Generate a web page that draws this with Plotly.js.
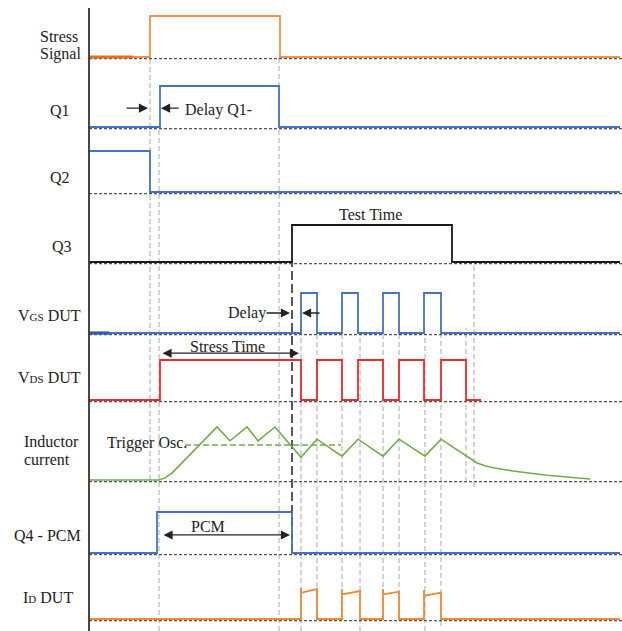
<!DOCTYPE html>
<html><head><meta charset="utf-8">
<script src="https://cdn.plot.ly/plotly-3.0.1.min.js"></script>
<style>html,body{margin:0;padding:0;background:#fff;}</style>
</head><body><div id="chart" style="width:622px;height:631px"></div>
<script>
// Time axis in arbitrary units, t = 0 at the left axis line
const stressT = [0, 61, 61, 191, 191, 531];
const stressV = [0, 0, 1, 1, 0, 0];
const stressStartT = [0, 44];
const stressStartV = [0, 0];
const q1T = [0, 71, 71, 190, 190, 531];
const q1V = [0, 0, 1, 1, 0, 0];
const q2T = [0, 61, 61, 531];
const q2V = [1, 1, 0, 0];
const q3T = [0, 203, 203, 363, 363, 531];
const q3V = [0, 0, 1, 1, 0, 0];
const vgsT = [0,212,212,228,228,253,253,269,269,294,294,310,310,335,335,352,352,531];
const vgsV = [0,0,1,1,0,0,1,1,0,0,1,1,0,0,1,1,0,0];
const vgsStartT = [0, 20];
const vgsStartV = [0, 0];
const vdsT = [0,71,71,212,212,228,228,253,253,269,269,294,294,310,310,335,335,352,352,377,377,392];
const vdsV = [0,0,1,1,0,0,1,1,0,0,1,1,0,0,1,1,0,0,1,1,0,0];
const indT = [0,70,76,83,128,141,158,169,186,212,228,253,269,294,310,336,352,376,382,388,396,404,424,458,501];
const indV = [0,0,0.04,0.13,1.0,0.74,1.0,0.74,1.0,0.43,0.77,0.45,0.77,0.45,0.77,0.45,0.77,0.47,0.39,0.32,0.27,0.23,0.17,0.09,0.02];
const triggerT = [96, 252];
const triggerV = [0.66, 0.66];
const q4T = [0, 68, 68, 203, 203, 531];
const q4V = [0, 0, 1, 1, 0, 0];
const idT = [0,212,212,212,228,228,253,253,253,271,271,294,294,294,310,310,335,335,335,352,352,531];
const idV = [0,0,1.03,0.87,1.0,0,0,1.0,0.82,0.93,0,0,1.0,0.82,0.91,0,0,0.97,0.77,0.88,0,0];

// Row layout (pixel rows: baseline / high level)
const W = 622, H = 631, L = 89;
const rows = [
  {base:57, top:16},   // stress
  {base:127, top:86},  // Q1
  {base:192, top:151}, // Q2
  {base:262, top:225}, // Q3
  {base:333, top:293}, // VGS
  {base:400, top:360}, // VDS
  {base:480, top:427}, // inductor
  {base:553, top:512}, // Q4
  {base:619, top:589}  // ID
];
const PAD = 0.25;
const px2x = px => (px - L) / (W - L);
const py2y = py => 1 - py / H;

const layout = {
  width: W, height: H,
  margin: {l: L, r: 0, t: 0, b: 0},
  paper_bgcolor: '#fff', plot_bgcolor: 'rgba(0,0,0,0)',
  showlegend: false,
  xaxis: {range: [0, W - L], visible: false, fixedrange: true},
  shapes: [], annotations: []
};
rows.forEach((r, i) => {
  const h = r.base - r.top;
  const name = 'yaxis' + (i === 0 ? '' : (i + 1));
  layout[name] = {
    domain: [py2y(r.base + PAD * h), py2y(r.top - PAD * h)],
    range: [-PAD, 1 + PAD], visible: false, anchor: 'x', fixedrange: true
  };
  const off = -1.6 / h; // dotted reference sits just below the low level
  layout.shapes.push({type:'line', layer:'below', xref:'x', yref: 'y' + (i === 0 ? '' : (i + 1)),
    x0: 0, x1: W - L, y0: off, y1: off, line: {color:'#555', width:1.2, dash:'3px,2px'}});
});

// vertical guide lines: [t, yTopPx, yBottomPx]
const guides = [[61,57,480],[70,127,631],[190,57,631],[212,333,631],[228,333,619],[253,333,619],
  [271,333,631],[294,333,619],[310,333,619],[336,333,631],[352,333,626],[377,328,482],[385,262,487]];
guides.forEach(g => layout.shapes.push({type:'line', layer:'below', xref:'x', yref:'paper',
  x0:g[0], x1:g[0], y0:py2y(g[2]), y1:py2y(g[1]), line:{color:'#aaa', width:1, dash:'5px,3px'}}));
layout.shapes.push({type:'line', layer:'below', xref:'x', yref:'paper', x0:203, x1:203,
  y0:py2y(553), y1:py2y(262), line:{color:'#222', width:1.5, dash:'9px,4px'}});
// left axis line
layout.shapes.push({type:'line', xref:'paper', yref:'paper', x0:0, x1:0, y0:0, y1:py2y(8),
  line:{color:'#333', width:1.8}});

const font = {family:'Liberation Serif, Times New Roman, serif', size:16, color:'#222'};
const lab = (text, leftPx, cyPx) => ({xref:'paper', yref:'paper', x:px2x(leftPx - 2), y:py2y(cyPx),
  xanchor:'left', yanchor:'middle', text, showarrow:false, font});
layout.annotations.push(
  lab('Stress', 40, 36), lab('Signal', 40, 54), lab('Q1', 50, 110), lab('Q2', 50, 177),
  lab('Q3', 52, 246), lab('V<span style="font-size:11px">GS</span> DUT', 18, 315),
  lab('V<span style="font-size:11px">DS</span> DUT', 18, 377), lab('Inductor', 24, 441),
  lab('current', 24, 459), lab('Q4 - PCM', 14, 535), lab('I<span style="font-size:11px">D</span> DUT', 23, 597),
  lab('Delay Q1-', 185, 110), lab('Test Time', 339, 214), lab('Delay', 228, 313),
  lab('Stress Time', 190, 346), lab('PCM', 191, 526), lab('Trigger Osc.', 107, 443)
);
const arrow = (yr, x, y, ax, ay, both) => ({xref:'x', yref:yr, axref:'x', ayref:yr, x, y, ax, ay,
  text:'', showarrow:true, arrowhead:2, arrowsize:1.4, arrowwidth:1.3, arrowcolor:'#222',
  arrowside: both ? 'end+start' : 'end', standoff:0, startstandoff:0});
layout.annotations.push(
  arrow('y2', 59, 0.46, 36, 0.46), arrow('y2', 72, 0.46, 91, 0.46),
  arrow('y5', 201, 0.5, 176, 0.5), arrow('y5', 213, 0.5, 232, 0.5),
  arrow('y6', 210, 1.17, 72, 1.17, true),
  arrow('y8', 201, 0.44, 73, 0.44, true)
);

const tr = (x, y, ya, color, width, dash) => ({x, y, xaxis:'x', yaxis:ya, mode:'lines', hoverinfo:'skip',
  line:{color, width: width || 1.8, dash: dash || 'solid'}, cliponaxis:false});
const data = [
  tr(stressT, stressV, 'y', '#F4904A', 1.8),
  tr(stressStartT, stressStartV, 'y', '#E2701E', 3.2),
  tr(q1T, q1V, 'y2', '#4472C4', 1.8),
  tr(q2T, q2V, 'y3', '#4472C4', 1.8),
  tr(q3T, q3V, 'y4', '#1a1a1a', 1.8),
  tr(vgsT, vgsV, 'y5', '#4472C4', 1.8),
  tr(vgsStartT, vgsStartV, 'y5', '#2E5DB0', 3.2),
  tr(vdsT, vdsV, 'y6', '#EE2A2A', 1.8),
  tr(triggerT, triggerV, 'y7', '#70AD47', 1.6, '6px,3px'),
  tr(indT, indV, 'y7', '#70AD47', 1.6),
  tr(q4T, q4V, 'y8', '#4472C4', 1.8),
  tr(idT, idV, 'y9', '#F08A30', 1.8)
];
Plotly.newPlot('chart', data, layout, {staticPlot:true, displayModeBar:false});
</script></body></html>
